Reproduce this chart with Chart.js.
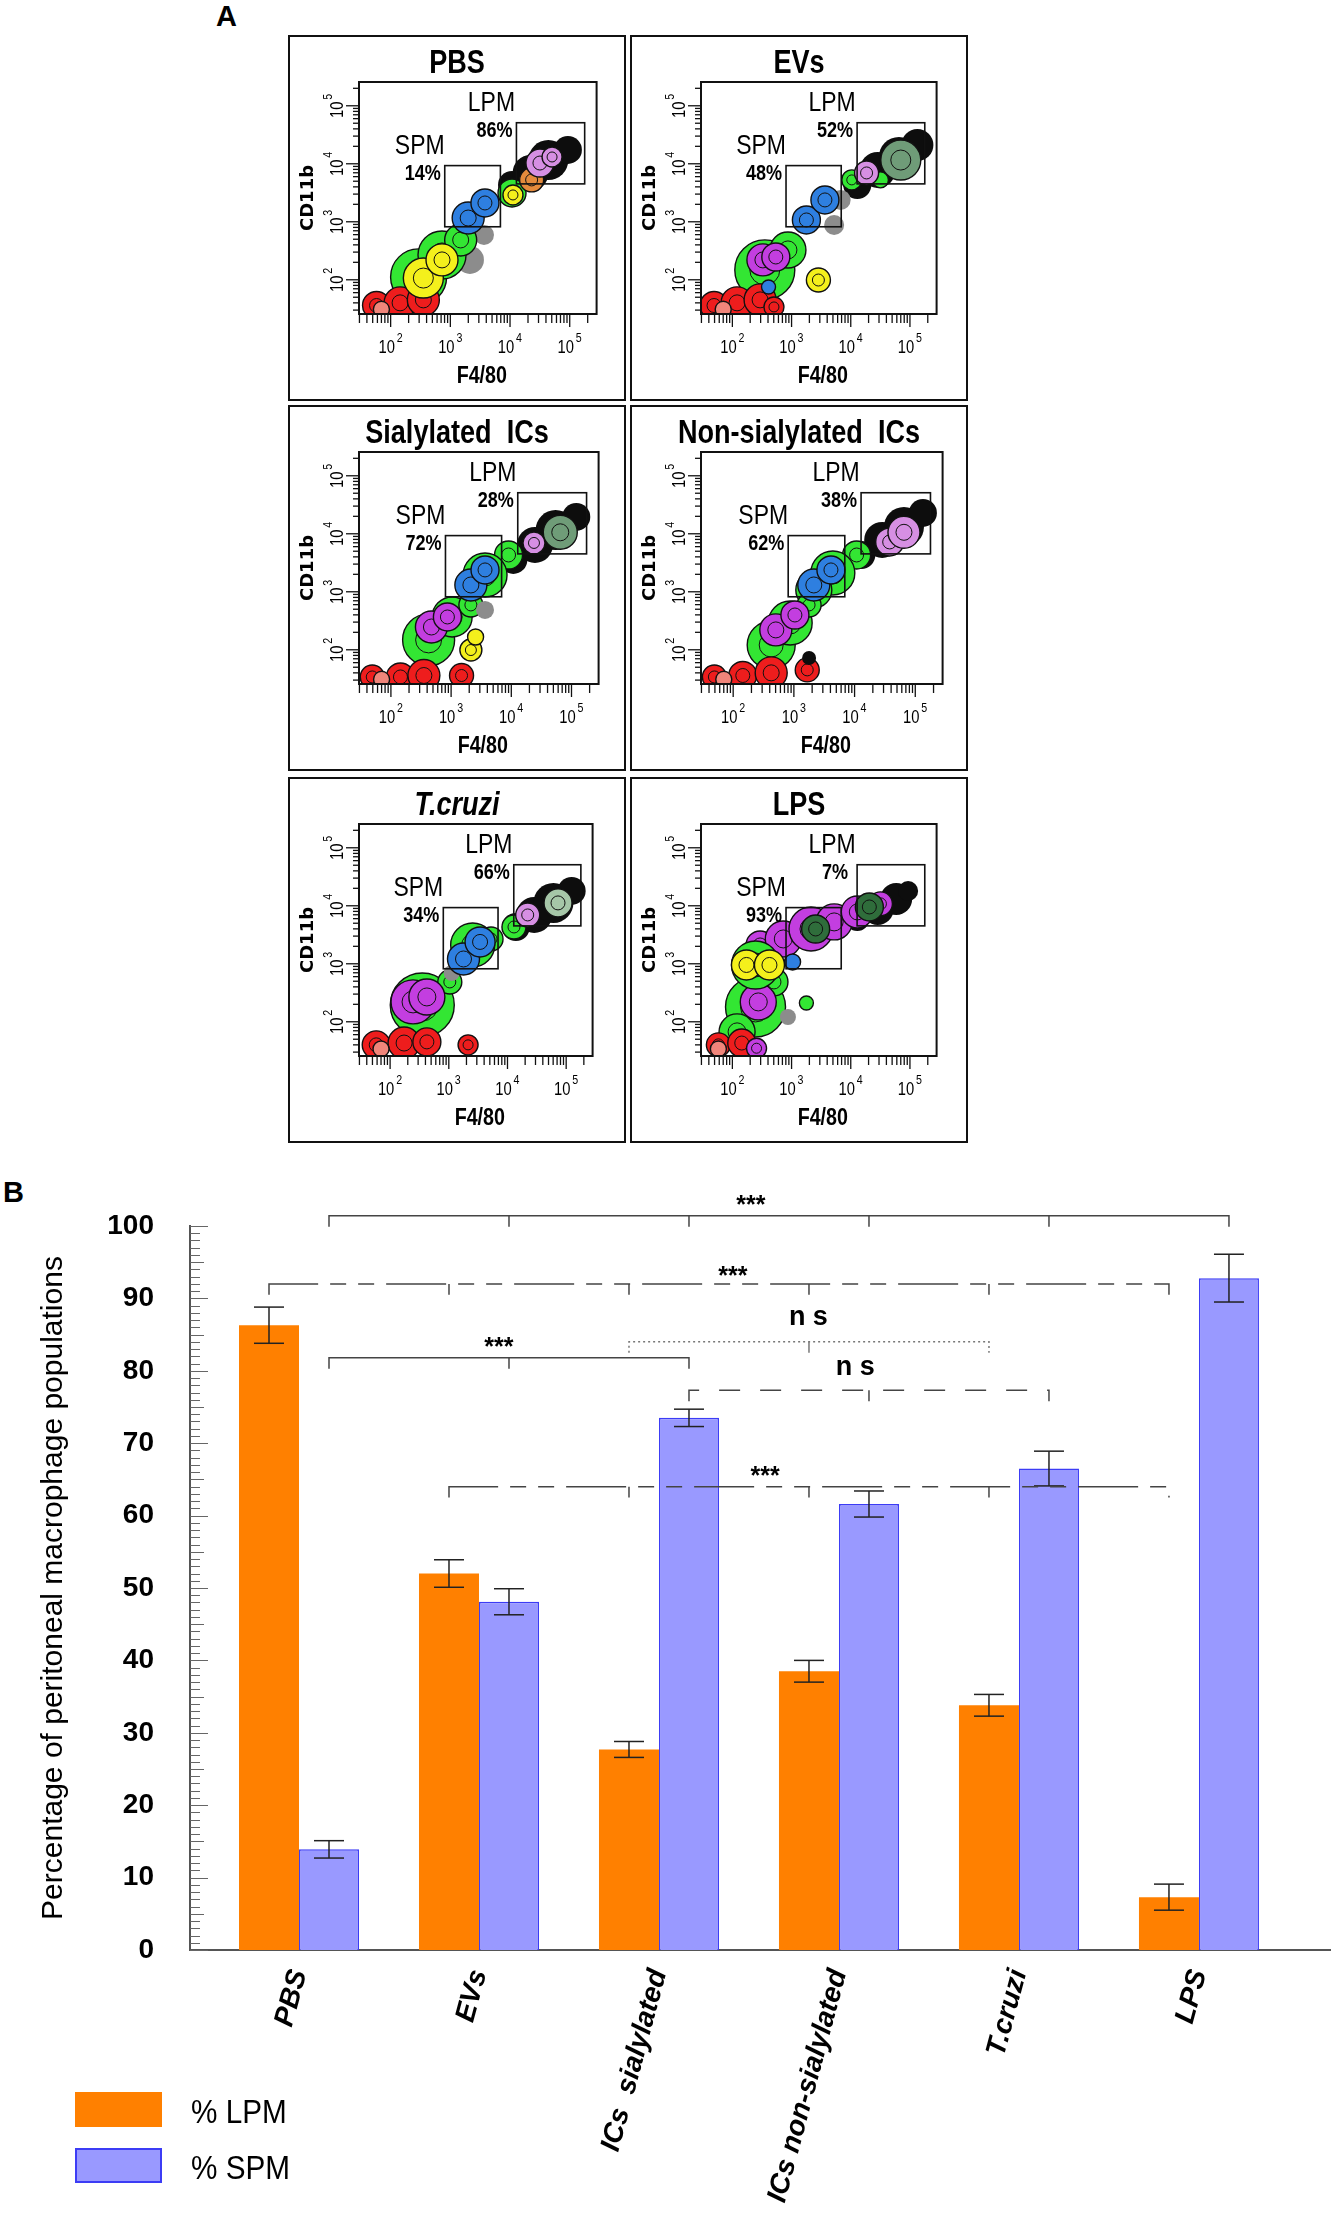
<!DOCTYPE html>
<html>
<head>
<meta charset="utf-8">
<script src="https://cdn.jsdelivr.net/npm/chart.js@4.4.1/dist/chart.umd.min.js"></script>
<style>
  body { margin: 0; background: #fff; width: 1333px; height: 2231px; position: relative; overflow: hidden;
         font-family: Arial, "Liberation Sans", sans-serif; }
  .abs { position: absolute; }
  .panel-letter { position: absolute; font-weight: bold; font-size: 29px; color: #000; }
  .leg-box { position: absolute; left: 75px; width: 87px; height: 35px; box-sizing: border-box; }
  .leg-txt { position: absolute; left: 191px; font-size: 33px; line-height: 35px; color: #000;
             transform: scaleX(0.9); transform-origin: left center; white-space: nowrap; }
</style>
</head>
<body>
<div class="panel-letter" style="left:216px;top:0px">A</div>
<div class="panel-letter" style="left:3px;top:1176px">B</div>
<canvas id="bars" class="abs" width="1333" height="1081" style="left:0;top:1150px"></canvas>
<div id="legend"></div>
<script>
// ---------- panel B data ----------
const groups = ['PBS', 'EVs', 'ICs  sialylated', 'ICs non-sialylated', 'T.cruzi', 'LPS'];
const lpmMean = [86.3, 52.0, 27.7, 38.5, 33.8, 7.3];
const lpmSem  = [2.5, 1.9, 1.1, 1.5, 1.5, 1.8];
const spmMean = [13.9, 48.1, 73.5, 61.6, 66.5, 92.8];
const spmSem  = [1.2, 1.8, 1.2, 1.8, 2.4, 3.3];

// significance brackets (series 0 = LPM, 1 = SPM)
const sigSeries    = [1, 0, 1, 0, 1, 0];
const sigGroups    = [[0, 1, 2, 3, 4, 5], [0, 1, 2, 3, 4, 5], [0, 1, 2], [2, 3, 4], [2, 3, 4], [1, 2, 3, 4, 5]];
const sigLevel     = [101.4, 92.0, 81.8, 84.0, 77.3, 64.0];
const sigText      = ['***', '***', '***', 'n s', 'n s', '***'];
const sigTextLevel = [103.7, 93.9, 84.1, 87.3, 80.4, 66.3];
const sigTextPos   = [2.51, 2.41, 1.11, 2.83, 3.09, 2.59];

// ---------- panel A data ----------
const flowTitles = ['PBS', 'EVs', 'Sialylated  ICs', 'Non-sialylated  ICs', 'T.cruzi', 'LPS'];
const spmPct = [14, 48, 72, 62, 34, 93];
const lpmPct = [86, 52, 28, 38, 66, 7];
// gates: F4/80 from, to, CD11b from, to
const spmGate = [806, 6900, 820, 9300];
const lpmGate = [12800, 178000, 4500, 51000];
// populations: F4/80, CD11b, spread, population
const flowPops = [
  [[10800, 4310, 14, 'black'], [22100, 6950, 18, 'black'], [43800, 11600, 20, 'black'], [93200, 17300, 14, 'black'],
   [2130, 220, 14, 'gray'], [3660, 593, 10, 'gray'],
   [294, 112, 28, 'green'], [725, 268, 24, 'green'], [1490, 486, 16, 'green'], [10800, 3140, 14, 'green'],
   [58, 36, 14, 'red'], [144, 40, 16, 'red'], [353, 45, 16, 'red'], [70, 31, 8, 'salmon'],
   [353, 107, 20, 'yellow'], [725, 220, 16, 'yellow'], [11200, 2900, 10, 'yellow'],
   [1990, 1160, 16, 'blue'], [3800, 2110, 14, 'blue'],
   [23000, 5270, 12, 'orange'], [31700, 10300, 14, 'lilac'], [50600, 13100, 10, 'lilac']],
  [[12900, 4310, 14, 'black'], [28500, 7830, 18, 'black'], [65100, 13100, 20, 'black'], [133600, 21100, 16, 'black'],
   [5240, 880, 10, 'gray'], [6750, 2380, 10, 'gray'],
   [10400, 5270, 10, 'green'], [31700, 5270, 8, 'green'], [353, 148, 30, 'green'], [868, 327, 18, 'green'],
   [49, 36, 14, 'red'], [120, 40, 16, 'red'], [294, 45, 16, 'red'], [504, 34, 10, 'red'], [70, 31, 8, 'salmon'],
   [328, 220, 16, 'magenta'], [542, 247, 14, 'magenta'], [408, 75, 7, 'blue'], [2840, 99, 12, 'yellow'],
   [1780, 1075, 14, 'blue'], [3660, 2380, 14, 'blue'], [18500, 6950, 12, 'lilac'], [70000, 11600, 20, 'sage']],
  [[10800, 3540, 14, 'black'], [24700, 6420, 18, 'black'], [54400, 11600, 20, 'black'], [120000, 19500, 14, 'black'],
   [9000, 4310, 14, 'green'], [3660, 1950, 22, 'green'], [423, 148, 26, 'green'], [1040, 368, 20, 'green'], [2130, 593, 12, 'green'],
   [3660, 486, 9, 'gray'],
   [49, 34, 12, 'red'], [144, 34, 14, 'red'], [353, 36, 16, 'red'], [1490, 36, 12, 'red'], [70, 31, 8, 'salmon'],
   [471, 247, 16, 'magenta'], [868, 368, 14, 'magenta'], [2130, 99, 11, 'yellow'], [2550, 166, 8, 'yellow'],
   [2130, 1310, 16, 'blue'], [3660, 2380, 14, 'blue'], [23800, 6950, 11, 'lilac'], [65100, 10600, 17, 'sage']],
  [[12900, 4310, 14, 'black'], [28500, 7830, 18, 'black'], [65100, 13100, 20, 'black'], [133600, 22900, 14, 'black'],
   [10800, 4310, 14, 'green'], [4380, 2110, 22, 'green'], [2130, 1075, 18, 'green'],
   [423, 121, 24, 'green'], [868, 290, 22, 'green'], [1780, 593, 12, 'green'],
   [49, 34, 12, 'red'], [144, 36, 14, 'red'], [423, 40, 16, 'red'], [1660, 45, 12, 'red'], [1780, 72, 7, 'black'],
   [70, 31, 8, 'salmon'],
   [504, 220, 16, 'magenta'], [1040, 398, 14, 'magenta'], [2130, 1310, 16, 'blue'], [4080, 2380, 14, 'blue'],
   [37900, 7230, 14, 'lilac'], [65100, 10600, 16, 'lilac']],
  [[13900, 4310, 14, 'black'], [28500, 6950, 18, 'black'], [60600, 11200, 20, 'black'], [124000, 18000, 14, 'black'],
   [12900, 4310, 12, 'green'], [5240, 2680, 12, 'green'], [2550, 2110, 22, 'green'],
   [353, 195, 32, 'green'], [1040, 486, 12, 'green'], [1120, 694, 8, 'gray'],
   [58, 40, 14, 'red'], [173, 43, 16, 'red'], [423, 45, 14, 'red'], [2130, 40, 10, 'red'], [70, 34, 8, 'salmon'],
   [246, 220, 22, 'magenta'], [423, 268, 18, 'magenta'], [1780, 1210, 16, 'blue'], [3410, 2380, 15, 'blue'],
   [22100, 6950, 12, 'lilac'], [72600, 11200, 14, 'sagelt']],
  [[12900, 5930, 12, 'black'], [28500, 8810, 16, 'black'], [58500, 13100, 16, 'black'], [93200, 18000, 10, 'black'],
   [294, 2110, 14, 'magenta'], [725, 2680, 18, 'magenta'], [2130, 3980, 22, 'magenta'], [5240, 5270, 18, 'magenta'],
   [12900, 7830, 16, 'magenta'], [31700, 10800, 12, 'magenta'], [2550, 3980, 14, 'dkgreen'],
   [246, 180, 30, 'green'], [504, 486, 14, 'green'], [120, 67, 18, 'green'], [868, 121, 8, 'gray'],
   [58, 40, 12, 'red'], [144, 43, 14, 'red'], [256, 35, 10, 'magenta'], [58, 34, 8, 'salmon'],
   [274, 220, 18, 'magenta'], [1780, 211, 7, 'green'], [246, 954, 24, 'green'],
   [173, 954, 15, 'yellow'], [423, 954, 15, 'yellow'], [1040, 1075, 8, 'blue'], [20600, 9540, 14, 'dkgreen']]
];

Chart.defaults.font.family = 'Arial, "Liberation Sans", sans-serif';
const sansFam = 'Arial, "Liberation Sans", sans-serif';

const popColors = {
  black: '#0d0d0d', gray: '#8c8c8c', red: '#ee1d1d', salmon: '#f0857a', green: '#33e633',
  yellow: '#f4f01c', blue: '#2e7fe0', orange: '#e48a3c', lilac: '#d68fe3', magenta: '#c33ee0',
  sage: '#6f9c78', sagelt: '#a6c7a8', dkgreen: '#2f6d3b'
};

function seg(ctx, x1, y1, x2, y2) {
  ctx.beginPath(); ctx.moveTo(x1, y1); ctx.lineTo(x2, y2); ctx.stroke();
}
// condensed text: Arial squeezed horizontally, optionally rotated
function narrowText(ctx, txt, x, y, font, rot) {
  ctx.save();
  ctx.font = font + ' ' + sansFam;
  ctx.translate(x, y);
  if (rot) ctx.rotate(rot);
  ctx.scale(0.82, 1);
  ctx.fillText(txt, 0, 0);
  ctx.restore();
}
// "10" with a raised exponent, drawn in a local frame
function powLabel(ctx, d, x, y, rot) {
  ctx.save();
  ctx.translate(x, y);
  if (rot) ctx.rotate(rot);
  narrowText(ctx, '10', -4, 0, '18px');
  narrowText(ctx, String(d), 9, -10, '13px');
  ctx.restore();
}

// decorations of each flow panel: frame, title, log ticks, gates
const flowDecor = {
  id: 'flowDecor',
  afterDraw(chart, args, o) {
    const ctx = chart.ctx, a = chart.chartArea, xs = chart.scales.x, ys = chart.scales.y;
    const W = chart.width, H = chart.height;
    ctx.save();
    ctx.strokeStyle = '#111';
    ctx.lineWidth = 2;
    ctx.strokeRect(1, 1, W - 2, H - 2);
    ctx.strokeRect(a.left, a.top, a.right - a.left, a.bottom - a.top);
    ctx.fillStyle = '#000';
    ctx.textAlign = 'center'; ctx.textBaseline = 'middle';
    narrowText(ctx, o.title, W / 2, 29, (o.italic ? 'italic ' : '') + 'bold 33px');

    ctx.lineWidth = 1.3;
    for (let d = 1; d <= 5; d++) {
      for (let m = 1; m <= 9; m++) {
        const v = m * Math.pow(10, d);
        if (v >= xs.min && v <= xs.max) {
          const px = xs.getPixelForValue(v);
          seg(ctx, px, a.bottom, px, a.bottom + (m === 1 ? 13 : 9));
        }
        if (v >= ys.min && v <= ys.max) {
          const py = ys.getPixelForValue(v);
          seg(ctx, a.left - (m === 1 ? 13 : 6), py, a.left, py);
        }
      }
    }
    for (let d = 2; d <= 5; d++) {
      const v = Math.pow(10, d);
      powLabel(ctx, d, xs.getPixelForValue(v), a.bottom + 34, 0);
      powLabel(ctx, d, a.left - 21, ys.getPixelForValue(v), -Math.PI / 2);
    }
    narrowText(ctx, 'F4/80', (a.left + a.right) / 2 + 4, 341, 'bold 24px');
    ctx.save();
    ctx.translate(20, (a.top + a.bottom) / 2);
    ctx.rotate(-Math.PI / 2);
    ctx.font = 'bold 18px "DejaVu Sans", Verdana, sans-serif';
    ctx.fillText('CD11b', 0, 0);
    ctx.restore();

    [[spmGate, 'SPM', o.spm], [lpmGate, 'LPM', o.lpm]].forEach(([g, name, pct]) => {
      const x1 = xs.getPixelForValue(g[0]), x2 = xs.getPixelForValue(g[1]);
      const y1 = ys.getPixelForValue(g[3]), y2 = ys.getPixelForValue(g[2]);
      ctx.lineWidth = 1.6;
      ctx.strokeRect(x1, y1, x2 - x1, y2 - y1);
      narrowText(ctx, name, x1 - 25, y1 - 19, '28px');
      narrowText(ctx, pct + '%', x1 - 22, y1 + 8, 'bold 22px');
    });
    ctx.restore();
  }
};

const panelLeft = [288, 630];
const panelTop = [35, 405, 777];
const isRing = c => !!(c.raw && c.raw.ring);
const popKey = c => (c.raw ? c.raw.k : 'black');

flowTitles.forEach((title, i) => {
  const cv = document.createElement('canvas');
  cv.width = 338; cv.height = 366;
  cv.className = 'abs';
  cv.style.left = panelLeft[i % 2] + 'px';
  cv.style.top = panelTop[Math.floor(i / 2)] + 'px';
  document.body.appendChild(cv);
  const pts = [];
  flowPops[i].forEach(p => {
    pts.push({x: p[0], y: p[1], r: p[2], k: p[3]});
    if (p[3] !== 'black' && p[3] !== 'gray' && p[2] >= 10) {
      pts.push({x: p[0], y: p[1], r: p[2] * 0.5, k: p[3], ring: true});
    }
  });
  new Chart(cv, {
    type: 'bubble',
    data: {
      datasets: [{
        data: pts,
        clip: 0,
        backgroundColor: c => isRing(c) ? 'rgba(0,0,0,0)' : popColors[popKey(c)],
        borderColor: c => (popKey(c) === 'black' || popKey(c) === 'gray') ? 'rgba(0,0,0,0)' : '#111',
        borderWidth: c => isRing(c) ? 1 : 1.4
      }]
    },
    options: {
      responsive: false,
      animation: false,
      events: [],
      layout: { padding: { left: 71, top: 47, right: 13, bottom: 87 } },
      scales: {
        x: { type: 'logarithmic', min: 29.5, max: 282000, display: false },
        y: { type: 'logarithmic', min: 25.7, max: 257000, display: false }
      },
      plugins: {
        legend: { display: false },
        tooltip: { enabled: false },
        flowDecor: { title: title, italic: title === 'T.cruzi', spm: spmPct[i], lpm: lpmPct[i] }
      }
    },
    plugins: [flowDecor]
  });
});

// ---------- panel B ----------
const sigColor = ['#444', '#444', '#444', '#777', '#444', '#444'];
const sigDash = [[], [60, 12, 16, 12, 16, 12], [], [2, 3], [21, 20], [60, 12, 16, 12, 16, 12]];

const barDecor = {
  id: 'barDecor',
  afterDatasetsDraw(chart) {
    const ctx = chart.ctx, a = chart.chartArea, y = chart.scales.y, x = chart.scales.x;
    ctx.save();
    // inner minor ticks of the value axis
    ctx.strokeStyle = '#666'; ctx.lineWidth = 1;
    for (let v = 0; v <= 100; v++) {
      const len = v % 10 === 0 ? 18 : (v % 5 === 0 ? 14 : 10);
      const py = Math.round(y.getPixelForValue(v)) + 0.5;
      seg(ctx, a.left, py, a.left + len, py);
    }
    // error bars
    const sems = [lpmSem, spmSem];
    ctx.strokeStyle = '#222'; ctx.lineWidth = 1.5;
    chart.data.datasets.forEach((ds, di) => {
      chart.getDatasetMeta(di).data.forEach((bar, i) => {
        const v = ds.data[i].y;
        const y1 = y.getPixelForValue(v + sems[di][i]);
        const y2 = y.getPixelForValue(v - sems[di][i]);
        seg(ctx, bar.x, y1, bar.x, y2);
        seg(ctx, bar.x - 15, y1, bar.x + 15, y1);
        seg(ctx, bar.x - 15, y2, bar.x + 15, y2);
      });
    });
    // significance brackets
    sigGroups.forEach((g, k) => {
      const meta = chart.getDatasetMeta(sigSeries[k]);
      const xs = g.map(i => meta.data[i].x);
      const py = y.getPixelForValue(sigLevel[k]);
      const drop = y.getPixelForValue(sigLevel[k] - 1.5) - py;
      ctx.strokeStyle = sigColor[k]; ctx.lineWidth = 1.5;
      ctx.setLineDash(sigDash[k]);
      ctx.beginPath();
      ctx.moveTo(xs[0], py + drop);
      ctx.lineTo(xs[0], py);
      ctx.lineTo(xs[xs.length - 1], py);
      ctx.lineTo(xs[xs.length - 1], py + drop);
      ctx.stroke();
      ctx.setLineDash([]);
      xs.slice(1, -1).forEach(px => seg(ctx, px, py, px, py + drop));
      const stars = sigText[k] === '***';
      ctx.fillStyle = '#000';
      ctx.textAlign = 'center'; ctx.textBaseline = 'alphabetic';
      ctx.font = (stars ? 'bold 25px ' : 'bold 27px ') + sansFam;
      ctx.fillText(sigText[k], x.getPixelForValue(sigTextPos[k]),
                   y.getPixelForValue(sigTextLevel[k]) + (stars ? 14 : 7));
    });
    ctx.restore();
  }
};

const barCtx = document.getElementById('bars');
const barChart = new Chart(barCtx, {
  type: 'bar',
  data: {
    datasets: [
      { label: '% LPM', data: lpmMean.map((v, i) => ({x: i, y: v})),
        backgroundColor: '#ff8000', borderWidth: 0 },
      { label: '% SPM', data: spmMean.map((v, i) => ({x: i, y: v})),
        backgroundColor: '#9999ff', borderColor: '#3c3cf5', borderWidth: 1.5 }
    ]
  },
  options: {
    responsive: false,
    animation: false,
    events: [],
    categoryPercentage: 0.6667,
    barPercentage: 1,
    layout: { padding: { top: 76, right: 3, left: 0, bottom: 0 } },
    scales: {
      x: {
        type: 'linear', offset: false, min: -0.6056, max: 5.728,
        afterBuildTicks: s => { s.ticks = groups.map((g, i) => ({ value: i })); },
        afterFit: s => { s.height = 281; },
        grid: { display: false, drawTicks: false },
        border: { display: true, color: '#555', width: 2 },
        ticks: {
          autoSkip: false, minRotation: 75, maxRotation: 75, padding: 16, color: '#000',
          font: { size: 28, weight: 'bold', style: 'italic' },
          callback: v => groups[v]
        }
      },
      y: {
        min: 0, max: 100,
        afterFit: s => { s.width = 190; },
        grid: { display: false, drawTicks: false },
        border: { display: true, color: '#555', width: 2 },
        ticks: { stepSize: 10, padding: 36, color: '#000', font: { size: 28, weight: 'bold' } },
        title: {
          display: true, text: 'Percentage of peritoneal macrophage populations', color: '#000',
          font: { size: 30 }, padding: { top: 36, bottom: 0 }
        }
      }
    },
    plugins: { legend: { display: false }, tooltip: { enabled: false } }
  },
  plugins: [barDecor]
});

// legend
const legend = document.getElementById('legend');
barChart.data.datasets.forEach((ds, i) => {
  const top = 2092 + i * 56;
  const box = document.createElement('div');
  box.className = 'leg-box';
  box.style.top = top + 'px';
  box.style.background = ds.backgroundColor;
  if (ds.borderWidth) box.style.border = '2px solid ' + ds.borderColor;
  const txt = document.createElement('div');
  txt.className = 'leg-txt';
  txt.style.top = (top + 2) + 'px';
  txt.textContent = ds.label;
  legend.appendChild(box);
  legend.appendChild(txt);
});
</script>
</body>
</html>
